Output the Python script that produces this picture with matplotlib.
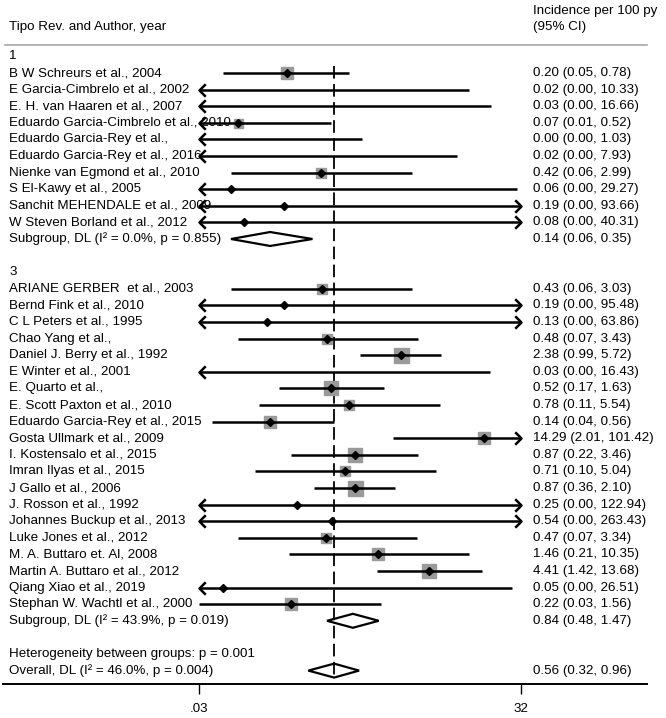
import numpy as np
import matplotlib.pyplot as plt
import matplotlib.transforms as mtransforms
from matplotlib.lines import Line2D
from matplotlib.path import Path
from matplotlib.patches import Polygon

plt.rcParams['font.family'] = ['Liberation Sans', 'DejaVu Sans']
plt.rcParams['font.size'] = 9.6

# Дані: групи досліджень
group1_names = ["B W Schreurs et al., 2004", "E Garcia-Cimbrelo et al., 2002",
                "E. H. van Haaren et al., 2007", "Eduardo Garcia-Cimbrelo et al., 2010",
                "Eduardo Garcia-Rey et al.,", "Eduardo Garcia-Rey et al., 2016",
                "Nienke van Egmond et al., 2010", "S El-Kawy et al., 2005",
                "Sanchit MEHENDALE et al., 2009", "W Steven Borland et al., 2012"]
group1_est = [0.20, 0.02, 0.028, 0.07, 0.001, 0.02, 0.42, 0.06, 0.19, 0.08]
group1_lo = [0.05, 0.0001, 0.0001, 0.01, 0.0001, 0.0001, 0.06, 0.0001, 0.0001, 0.0001]
group1_hi = [0.78, 10.33, 16.66, 0.52, 1.03, 7.93, 2.99, 29.27, 93.66, 40.31]
group1_txt = ["0.20 (0.05, 0.78)", "0.02 (0.00, 10.33)", "0.03 (0.00, 16.66)",
              "0.07 (0.01, 0.52)", "0.00 (0.00, 1.03)", "0.02 (0.00, 7.93)",
              "0.42 (0.06, 2.99)", "0.06 (0.00, 29.27)", "0.19 (0.00, 93.66)",
              "0.08 (0.00, 40.31)"]
group1_w = [16, 0, 0, 9, 0, 0, 11, 0, 0, 0]

group3_names = ["ARIANE GERBER  et al., 2003", "Bernd Fink et al., 2010",
                "C L Peters et al., 1995", "Chao Yang et al.,",
                "Daniel J. Berry et al., 1992", "E Winter et al., 2001",
                "E. Quarto et al.,", "E. Scott Paxton et al., 2010",
                "Eduardo Garcia-Rey et al., 2015", "Gosta Ullmark et al., 2009",
                "I. Kostensalo et al., 2015", "Imran Ilyas et al., 2015",
                "J Gallo et al., 2006", "J. Rosson et al., 1992",
                "Johannes Buckup et al., 2013", "Luke Jones et al., 2012",
                "M. A. Buttaro et. Al, 2008", "Martin A. Buttaro et al., 2012",
                "Qiang Xiao et al., 2019", "Stephan W. Wachtl et al., 2000"]
group3_est = [0.43, 0.19, 0.13, 0.48, 2.38, 0.028, 0.52, 0.78, 0.14, 14.29,
              0.87, 0.71, 0.87, 0.25, 0.54, 0.47, 1.46, 4.41, 0.05, 0.22]
group3_lo = [0.06, 0.0001, 0.0001, 0.07, 0.99, 0.0001, 0.17, 0.11, 0.04, 2.01,
             0.22, 0.10, 0.36, 0.0001, 0.0001, 0.07, 0.21, 1.42, 0.0001, 0.03]
group3_hi = [3.03, 95.48, 63.86, 3.43, 5.72, 16.43, 1.63, 5.54, 0.56, 101.42,
             3.46, 5.04, 2.10, 122.94, 263.43, 3.34, 10.35, 13.68, 26.51, 1.56]
group3_txt = ["0.43 (0.06, 3.03)", "0.19 (0.00, 95.48)", "0.13 (0.00, 63.86)",
              "0.48 (0.07, 3.43)", "2.38 (0.99, 5.72)", "0.03 (0.00, 16.43)",
              "0.52 (0.17, 1.63)", "0.78 (0.11, 5.54)", "0.14 (0.04, 0.56)",
              "14.29 (2.01, 101.42)", "0.87 (0.22, 3.46)", "0.71 (0.10, 5.04)",
              "0.87 (0.36, 2.10)", "0.25 (0.00, 122.94)", "0.54 (0.00, 263.43)",
              "0.47 (0.07, 3.34)", "1.46 (0.21, 10.35)", "4.41 (1.42, 13.68)",
              "0.05 (0.00, 26.51)", "0.22 (0.03, 1.56)"]
group3_w = [13, 0, 0, 11, 25, 0, 19, 13, 16, 16, 19, 13, 25, 0, 0, 11, 16, 22, 0, 16]

# Підсумкові оцінки: (оцінка, нижня, верхня)
sub1 = (0.14, 0.06, 0.35)
sub3 = (0.84, 0.48, 1.47)
overall = (0.56, 0.32, 0.96)
sub1_label = "Subgroup, DL (I² = 0.0%, p = 0.855)"
sub3_label = "Subgroup, DL (I² = 43.9%, p = 0.019)"
het_label = "Heterogeneity between groups: p = 0.001"
overall_label = "Overall, DL (I² = 46.0%, p = 0.004)"

xmin, xmax = 0.03, 32

# Розмітка (пікселі)
W, H = 666, 718
row0, step = 73, 16.6
top_px, bot_px = 44, 684
left_px, right_px = 199, 521

fig = plt.figure(figsize=(W / 100, H / 100), dpi=100)
ax = fig.add_axes([left_px / W, 1 - bot_px / H, (right_px - left_px) / W, (bot_px - top_px) / H])
ax.set_xscale('log')
ax.set_xlim(xmin, xmax)
ax.set_ylim((bot_px - row0) / step, (top_px - row0) / step)
for s in ax.spines.values():
    s.set_visible(False)
ax.set_yticks([])
ax.set_xticks([xmin, xmax])
ax.set_xticklabels(['.03', '32'])
ax.minorticks_off()
ax.tick_params(axis='x', length=7, width=1, direction='out', pad=7)

tr = mtransforms.blended_transform_factory(fig.transFigure, ax.transData)

left_arrow = Path([(1, 1), (0, 0), (1, -1)], [Path.MOVETO, Path.LINETO, Path.LINETO])
right_arrow = Path([(-1, 1), (0, 0), (-1, -1)], [Path.MOVETO, Path.LINETO, Path.LINETO])

lw = 1.8


def draw_study(y, name, est, lo, hi, txt, w):
    ax.text(9 / W, y, name, transform=tr, va='center', ha='left')
    ax.text(533 / W, y, txt, transform=tr, va='center', ha='left')
    if w > 0 and xmin < est < xmax:
        ax.plot([est], [y], marker='s', ms=3.0 * np.sqrt(w) * 0.72, color='#9a9a9a',
                mec='#9a9a9a', zorder=2)
    a, b = max(lo, xmin), min(hi, xmax)
    ax.plot([a, b], [y, y], color='black', lw=lw, zorder=3, solid_capstyle='butt')
    if lo < xmin:
        ax.plot([xmin], [y], marker=left_arrow, ms=9, mfc='none', mec='black',
                mew=lw, zorder=3, clip_on=False)
    if hi > xmax:
        ax.plot([xmax], [y], marker=right_arrow, ms=9, mfc='none', mec='black',
                mew=lw, zorder=3, clip_on=False)
    if xmin < est < xmax:
        ax.plot([est], [y], marker='D', ms=4, color='black', zorder=4)


def draw_diamond(y, label, stats):
    est, lo, hi = stats
    ax.text(9 / W, y, label, transform=tr, va='center', ha='left')
    ax.text(533 / W, y, "%.2f (%.2f, %.2f)" % stats, transform=tr, va='center', ha='left')
    h = 0.42
    ax.add_patch(Polygon([(lo, y), (est, y - h), (hi, y), (est, y + h)], closed=True,
                         facecolor='none', edgecolor='black', lw=1.6, zorder=5))


# Група 1
ax.text(9 / W, -1, "1", transform=tr, va='center', ha='left')
for i in range(len(group1_names)):
    draw_study(i, group1_names[i], group1_est[i], group1_lo[i], group1_hi[i],
               group1_txt[i], group1_w[i])
y = len(group1_names)
draw_diamond(y, sub1_label, sub1)

# Група 3
y += 2
ax.text(9 / W, y, "3", transform=tr, va='center', ha='left')
y0 = y + 1
for i in range(len(group3_names)):
    draw_study(y0 + i, group3_names[i], group3_est[i], group3_lo[i], group3_hi[i],
               group3_txt[i], group3_w[i])
y = y0 + len(group3_names)
draw_diamond(y, sub3_label, sub3)

y += 2
ax.text(9 / W, y, het_label, transform=tr, va='center', ha='left')
y += 1
draw_diamond(y, overall_label, overall)

# Пунктирна лінія загальної оцінки
ax.plot([overall[0], overall[0]], [-0.45, y + 0.4], color='black', lw=1.3,
        dashes=(7, 3), zorder=1)

# Заголовки та лінії
fig.text(9 / W, 1 - 27 / H, "Tipo Rev. and Author, year", va='center', ha='left')
fig.text(533 / W, 1 - 11 / H, "Incidence per 100 py", va='center', ha='left')
fig.text(533 / W, 1 - 27 / H, "(95% CI)", va='center', ha='left')
fig.add_artist(Line2D([5 / W, 647 / W], [1 - 45 / H, 1 - 45 / H], color='#a8a8a8', lw=1.2))
fig.add_artist(Line2D([3 / W, 647 / W], [1 - bot_px / H, 1 - bot_px / H], color='black', lw=1.4))

fig.savefig("out.png", dpi=100)
